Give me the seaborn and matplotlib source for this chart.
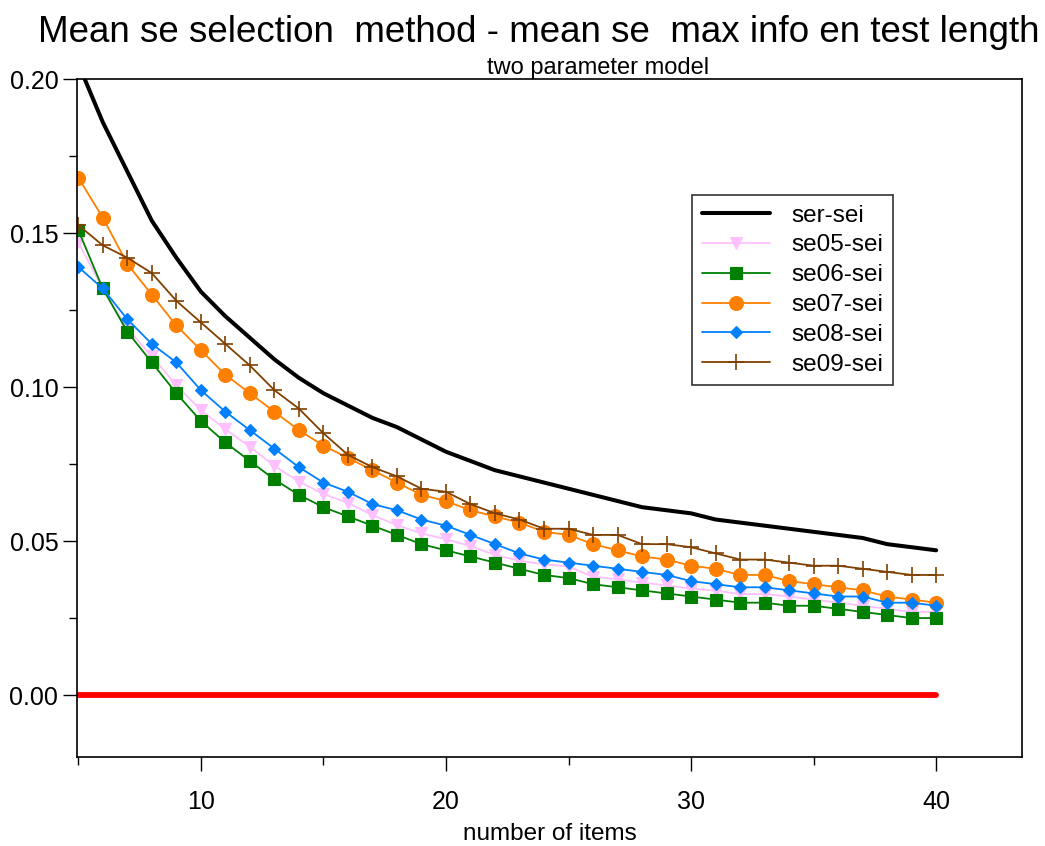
import matplotlib
matplotlib.use("Agg")
import matplotlib.pyplot as plt
from matplotlib.ticker import MultipleLocator
import numpy as np
import pandas as pd
import seaborn as sns

# test length (number of items)
items = list(range(5, 41))

ser_sei = [0.205, 0.186, 0.170, 0.154, 0.142, 0.131, 0.123, 0.116, 0.109, 0.103,
           0.098, 0.094, 0.090, 0.087, 0.083, 0.079, 0.076, 0.073, 0.071, 0.069,
           0.067, 0.065, 0.063, 0.061, 0.060, 0.059, 0.057, 0.056, 0.055, 0.054,
           0.053, 0.052, 0.051, 0.049, 0.048, 0.047]
se05_sei = [0.147, 0.132, 0.119, 0.110, 0.1006, 0.0925, 0.0863, 0.0806, 0.0744, 0.0693,
            0.0653, 0.0624, 0.0584, 0.0552, 0.0525, 0.0506, 0.0484, 0.0455, 0.0436, 0.0425,
            0.0417, 0.0384, 0.0376, 0.0365, 0.0356, 0.0346, 0.0339, 0.0328, 0.0328, 0.032,
            0.031, 0.030, 0.029, 0.028, 0.027, 0.027]
se06_sei = [0.151, 0.132, 0.118, 0.108, 0.098, 0.089, 0.082, 0.076, 0.070, 0.065,
            0.061, 0.058, 0.055, 0.052, 0.049, 0.047, 0.045, 0.043, 0.041, 0.039,
            0.038, 0.036, 0.035, 0.034, 0.033, 0.032, 0.031, 0.030, 0.030, 0.029,
            0.029, 0.028, 0.027, 0.026, 0.025, 0.025]
se07_sei = [0.168, 0.155, 0.140, 0.130, 0.120, 0.112, 0.104, 0.098, 0.092, 0.086,
            0.081, 0.077, 0.073, 0.069, 0.065, 0.063, 0.060, 0.058, 0.056, 0.053,
            0.052, 0.049, 0.047, 0.045, 0.044, 0.042, 0.041, 0.039, 0.039, 0.037,
            0.036, 0.035, 0.034, 0.032, 0.031, 0.030]
se08_sei = [0.139, 0.132, 0.122, 0.114, 0.108, 0.099, 0.092, 0.086, 0.080, 0.074,
            0.069, 0.066, 0.062, 0.060, 0.057, 0.055, 0.052, 0.049, 0.046, 0.044,
            0.043, 0.042, 0.041, 0.040, 0.039, 0.037, 0.036, 0.035, 0.035, 0.034,
            0.033, 0.032, 0.032, 0.030, 0.030, 0.029]
se09_sei = [0.1526, 0.146, 0.142, 0.137, 0.128, 0.121, 0.114, 0.107, 0.099, 0.093,
            0.085, 0.078, 0.074, 0.071, 0.067, 0.066, 0.062, 0.059, 0.057, 0.054,
            0.054, 0.052, 0.052, 0.049, 0.049, 0.048, 0.046, 0.044, 0.044, 0.043,
            0.042, 0.042, 0.041, 0.040, 0.039, 0.039]
zero_line = [0.0] * len(items)

series = [
    ("ser-sei", ser_sei, "black", None, 0, 2.9),
    ("se05-sei", se05_sei, "#FFC0FF", "v", 9, 1.3),
    ("se06-sei", se06_sei, "#008000", "s", 9, 1.3),
    ("se07-sei", se07_sei, "#FF8000", "o", 10, 1.3),
    ("se08-sei", se08_sei, "#0080FF", "D", 6.5, 1.3),
    ("se09-sei", se09_sei, "#804000", "+", 11, 1.3),
]

sns.set_style("ticks", {"axes.edgecolor": "black", "xtick.color": "black",
                        "ytick.color": "black", "text.color": "black",
                        "axes.labelcolor": "black"})
plt.rcParams['font.family'] = ['Liberation Sans', 'DejaVu Sans']

fig = plt.figure(figsize=(10.45, 8.46), dpi=100)
ax = fig.add_axes([0.0737, 0.1052, 0.9043, 0.8014])

for name, vals, col, mk, ms, lw in series:
    kw = dict(color=col, linewidth=lw, label=name)
    if mk is not None:
        kw.update(marker=mk, markersize=ms, markeredgecolor=col,
                  markeredgewidth=1.2 if mk == "+" else 0.8)
    sns.lineplot(x=items, y=vals, ax=ax, **kw)

sns.lineplot(x=items, y=zero_line, ax=ax, color="#FF0000", linewidth=4.2)

ax.set_xlim(4.95, 43.5)
ax.set_ylim(-0.0201, 0.2)
ax.xaxis.set_major_locator(MultipleLocator(10))
ax.xaxis.set_minor_locator(MultipleLocator(5))
ax.yaxis.set_major_locator(MultipleLocator(0.05))
ax.yaxis.set_minor_locator(MultipleLocator(0.025))
ax.yaxis.set_major_formatter(matplotlib.ticker.FormatStrFormatter('%.2f'))
ax.tick_params(which='major', length=10, width=1, labelsize=18)
ax.tick_params(which='minor', length=6, width=1)
ax.tick_params(axis='x', pad=14)
ax.tick_params(axis='y', pad=3.5)
for sp in ax.spines.values():
    sp.set_linewidth(1.2)
    sp.set_color('black')

ax.set_xlabel("number of items", fontsize=17.5, labelpad=6)
ax.set_ylabel("")

leg = ax.legend(loc='upper left', bbox_to_anchor=(0.651, 0.829), borderaxespad=0,
                fontsize=17.5, frameon=True, fancybox=False, edgecolor='black',
                handlelength=2.8, handletextpad=0.9, labelspacing=0.32,
                borderpad=0.4)
leg.get_frame().set_linewidth(1.2)

fig.text(0.516, 0.950, "Mean se selection  method - mean se  max info en test length",
         ha='center', va='baseline', fontsize=26.5)
fig.text(0.572, 0.912, "two parameter model", ha='center', va='baseline', fontsize=17)

fig.savefig("out.png", dpi=100)
